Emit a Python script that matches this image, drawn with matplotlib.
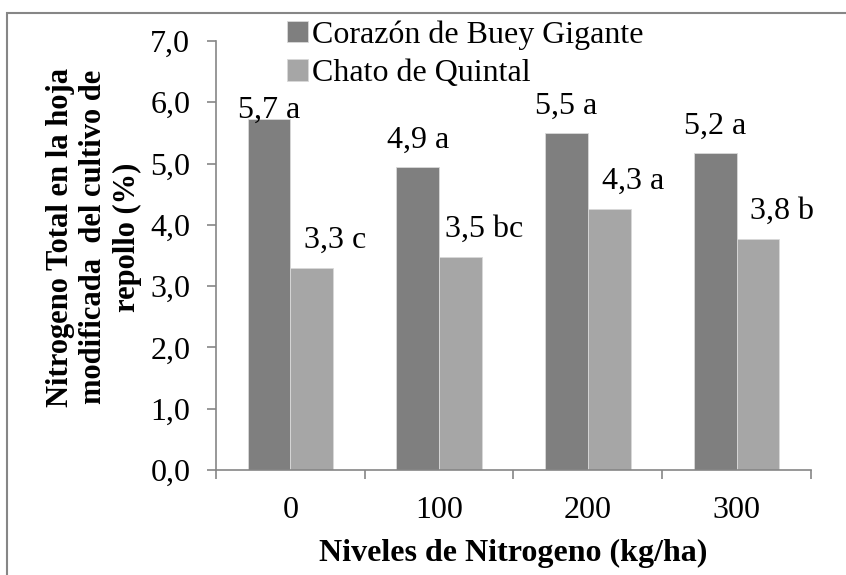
import numpy as np
import matplotlib.pyplot as plt
from matplotlib.patches import Rectangle

niveles = ['0', '100', '200', '300']
corazon = [5.72, 4.95, 5.50, 5.17]
chato = [3.30, 3.47, 4.26, 3.77]
etiq_corazon = ['5,7 a', '4,9 a', '5,5 a', '5,2 a']
etiq_chato = ['3,3 c', '3,5 bc', '4,3 a', '3,8 b']
yticks = [0, 1, 2, 3, 4, 5, 6, 7]

plt.rcParams['font.family'] = ['Liberation Serif', 'DejaVu Serif']

fig = plt.figure(figsize=(8.46, 5.75), dpi=100)
ax = fig.add_axes([0.2553, 0.1826, 0.7033, 0.7461])

gris = '#868686'
fs = 23
x = np.arange(len(niveles))
w = 0.287
ax.bar(x - w / 2, corazon, w, color='#7f7f7f', edgecolor='#d9d9d9', linewidth=0.6,
       label='Corazón de Buey Gigante')
ax.bar(x + w / 2, chato, w, color='#a6a6a6', edgecolor='#d9d9d9', linewidth=0.6,
       label='Chato de Quintal')

# etiquetas: la primera quedó pegada a la barra en el original
for i, (xi, v, t) in enumerate(zip(x - w / 2, corazon, etiq_corazon)):
    off = 0.03 if i == 0 else 0.31
    ax.text(xi, v + off, t, ha='center', va='baseline', fontsize=fs)
for xi, v, t in zip(x + w / 2, chato, etiq_chato):
    ax.text(xi + 0.16, v + 0.33, t, ha='center', va='baseline', fontsize=fs)

ax.set_xlim(-0.5, 3.5)
ax.set_ylim(0, 7)
ax.set_yticks(yticks)
ax.set_yticklabels([f'{v:.1f}'.replace('.', ',') for v in yticks], fontsize=fs)
ax.set_xticks(x)
ax.set_xticklabels(niveles, fontsize=fs)
ax.set_xticks(np.arange(-0.5, 4.0, 1.0), minor=True)
ax.tick_params(axis='x', which='major', length=0, pad=18.5)
ax.tick_params(axis='x', which='minor', length=6.5, width=1.2, color=gris, direction='out')
ax.tick_params(axis='y', length=6.5, width=1.2, color=gris, pad=12)

for s in ['top', 'right']:
    ax.spines[s].set_visible(False)
for s in ['left', 'bottom']:
    ax.spines[s].set_color(gris)
    ax.spines[s].set_linewidth(1.2)

ax.set_xlabel('Niveles de Nitrogeno (kg/ha)', fontsize=fs, fontweight='bold', labelpad=10)
ax.set_ylabel('Nitrogeno Total en la hoja\nmodificada  del cultivo de\nrepollo (%)',
              fontsize=22, fontweight='bold', labelpad=6, linespacing=1.2)
ax.yaxis.label.set_y(0.543)

ax.legend(loc='upper left', bbox_to_anchor=(287 / 846, 1 - 20 / 575),
          bbox_transform=fig.transFigure, frameon=False, fontsize=fs,
          handlelength=0.66, handleheight=0.66, handletextpad=0.12, labelspacing=0.3,
          borderaxespad=0, borderpad=0)

fig.patches.append(Rectangle((7 / 846, -0.1), 1.2, 1 - 13 / 575 + 0.1, transform=fig.transFigure,
                             fill=False, edgecolor=gris, linewidth=1.5))

fig.savefig('out.png', dpi=100)
